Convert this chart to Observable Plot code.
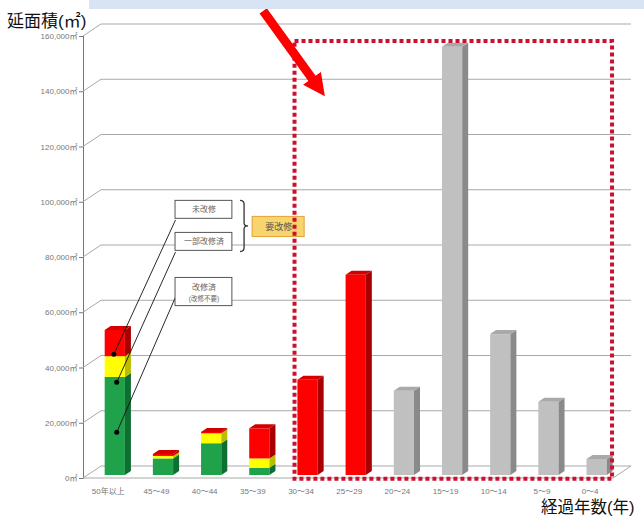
<!DOCTYPE html>
<html><head><meta charset="utf-8">
<script src="https://cdn.jsdelivr.net/npm/d3@7"></script>
<script src="https://cdn.jsdelivr.net/npm/@observablehq/plot@0.6"></script>
<style>
body{margin:0;background:#fff;}
#wrap{position:relative;width:644px;height:516px;overflow:hidden;font-family:"Liberation Sans","Noto Sans CJK JP",sans-serif;}
#chart{position:absolute;left:0;top:0;}
#banner{position:absolute;left:89px;top:0;width:555px;height:9px;background:#d8e3f4;}
#ytitle{position:absolute;left:7px;top:13px;font-size:17px;line-height:17px;color:#111;}
#xtitle{position:absolute;left:541px;top:499px;font-size:16.5px;line-height:16px;color:#111;white-space:nowrap;}
</style></head><body>
<div id="wrap"><div id="chart"></div><div id="banner"></div><div id="ytitle">延面積(㎡)</div><div id="xtitle">経過年数(年)</div></div>
<script>
// ---- data ----
const categories = ["50年以上","45〜49","40〜44","35〜39","30〜34","25〜29","20〜24","15〜19","10〜14","5〜9","0〜4"];
const kaishuzumi = [35500, 6000, 11500, 2600, 0, 0, 0, 0, 0, 0, 0];          // 改修済(改修不要) green
const ichibuKaishu = [7500, 900, 3600, 3400, 0, 0, 0, 0, 0, 0, 0];           // 一部改修済 yellow
const mikaishu = [9500, 700, 500, 10900, 34500, 72500, 0, 0, 0, 0, 0];       // 未改修 red
const sonota = [0, 0, 0, 0, 0, 0, 30500, 155000, 51000, 26500, 5800];        // gray
const yTicks = [0, 20000, 40000, 60000, 80000, 100000, 120000, 140000, 160000];
const highlightRange = ["30〜34", "0〜4"];
const calloutLabels = ["未改修", "一部改修済", "改修済", "(改修不要)", "要改修"];

// ---- styles ----
const seriesDefs = [
  {key: "改修済", values: kaishuzumi},
  {key: "一部改修済", values: ichibuKaishu},
  {key: "未改修", values: mikaishu},
  {key: "その他", values: sonota}
];
const frontC = {"改修済": "#1fa24a", "一部改修済": "#ffff00", "未改修": "#ff0000", "その他": "#c0c0c0"};
const sideC  = {"改修済": "#0f6e32", "一部改修済": "#bdbd00", "未改修": "#a80000", "その他": "#8a8a8a"};
const topC   = {"改修済": "#168a3d", "一部改修済": "#dede00", "未改修": "#d40000", "その他": "#a9a9a9"};

// stacked segments
const segments = [];
categories.forEach((c, i) => {
  let acc = 0, last = null;
  seriesDefs.forEach(s => {
    const v = s.values[i];
    if (v > 0) { last = {i, cat: c, key: s.key, y1: acc, y2: acc + v, top: false}; segments.push(last); acc += v; }
  });
  if (last) last.top = true;
});

const HW = 0.21, BAR_DY = -3, BX = 6, BY = 4, GX = 18, GY = 12;

function perspectiveGrid(index, scales, values, dim) {
  const y = scales.y;
  const xl = dim.marginLeft, xr = dim.width - dim.marginRight;
  const g = d3.create("svg:g").attr("fill", "none").attr("stroke", "#a9a9a9").attr("stroke-width", 1);
  for (const t of yTicks) {
    const py = y(t);
    g.append("path").attr("d", `M${xl},${py}L${xl + GX},${py - GY}L${xr + GX},${py - GY}`);
  }
  const p0 = y(0);
  g.append("path").attr("d", `M${xl},${p0}L${xr},${p0}L${xr + GX},${p0 - GY}`);
  return g.node();
}

function barFaces(index, scales, values, dim) {
  const {x, y} = scales;
  const g = d3.create("svg:g");
  for (const s of segments) {
    const x0 = x(s.i - HW), x1 = x(s.i + HW), yt = y(s.y2) + BAR_DY, yb = y(s.y1) + BAR_DY;
    g.append("path").attr("fill", sideC[s.key])
      .attr("d", `M${x1},${yt}L${x1 + BX},${yt - BY}L${x1 + BX},${yb - BY}L${x1},${yb}Z`);
    if (s.top) g.append("path").attr("fill", topC[s.key])
      .attr("d", `M${x0},${yt}L${x0 + BX},${yt - BY}L${x1 + BX},${yt - BY}L${x1},${yt}Z`);
  }
  return g.node();
}

// annotation geometry (data coordinates)
const hi0 = categories.indexOf(highlightRange[0]), hi1 = categories.indexOf(highlightRange[1]);
const highlight = [{x1: hi0 - 0.27, x2: hi1 + 0.32, y1: -300, y2: 158200}];
const boxes = [
  {x1: 1.25, x2: 2.43, y1: 94000, y2: 100500},
  {x1: 1.25, x2: 2.43, y1: 82400, y2: 88900},
  {x1: 1.25, x2: 2.43, y1: 62400, y2: 72600}
];
const boxTexts = [
  {x: 1.84, y: 97250, t: calloutLabels[0], s: 8},
  {x: 1.84, y: 85650, t: calloutLabels[1], s: 8},
  {x: 1.84, y: 69000, t: calloutLabels[2], s: 8},
  {x: 1.84, y: 65000, t: calloutLabels[3], s: 6.5}
];
const leaders = [
  {x1: 1.25, y1: 93600, x2: -0.03, y2: 45000},
  {x1: 1.25, y1: 82000, x2: 0.03, y2: 34800},
  {x1: 1.25, y1: 65700, x2: 0.03, y2: 16700}
];
const needBox = [{x1: 2.85, x2: 3.93, y1: 87400, y2: 94700}];
const brace = {x: 2.60, yTop: 100500, yBot: 82000};
const arrow = {x1: 3.08, y1: 169100, x2: 4.36, y2: 138200};

function annotations(index, scales) {
  const {x, y} = scales;
  const g = d3.create("svg:g");
  const bx = x(brace.x), bt = y(brace.yTop), bb = y(brace.yBot), bm = (bt + bb) / 2;
  g.append("path").attr("fill", "none").attr("stroke", "#333").attr("stroke-width", 1.3)
    .attr("d", `M${bx},${bt}Q${bx + 4},${bt} ${bx + 4},${bt + 4}L${bx + 4},${bm - 3}Q${bx + 4},${bm} ${bx + 8},${bm}Q${bx + 4},${bm} ${bx + 4},${bm + 3}L${bx + 4},${bb - 4}Q${bx + 4},${bb} ${bx},${bb}`);
  return g.node();
}

function arrowMark(index, scales) {
  const {x, y} = scales;
  const ax = x(arrow.x1), ay = y(arrow.y1), tx = x(arrow.x2), ty = y(arrow.y2);
  const L = Math.hypot(tx - ax, ty - ay), ux = (tx - ax) / L, uy = (ty - ay) / L;
  const hl = 22, hw = 11, sw = 4.5;
  const bx = tx - ux * hl, by = ty - uy * hl, px = -uy, py = ux;
  const g = d3.create("svg:g").attr("fill", "#ff0000");
  g.append("path").attr("d",
    `M${ax + px * sw},${ay + py * sw}L${bx + px * sw},${by + py * sw}L${bx + px * hw},${by + py * hw}L${tx},${ty}L${bx - px * hw},${by - py * hw}L${bx - px * sw},${by - py * sw}L${ax - px * sw},${ay - py * sw}Z`);
  return g.node();
}

const chart = Plot.plot({
  width: 644, height: 516,
  marginLeft: 83, marginRight: 31, marginTop: 36, marginBottom: 38,
  style: {fontFamily: "'Liberation Sans', 'Noto Sans CJK JP', sans-serif", fontSize: "8px", color: "#777", background: "transparent", overflow: "visible"},
  x: {domain: [-0.66, 10.34], axis: null},
  y: {domain: [0, 160000], ticks: yTicks, tickFormat: d => d3.format(",")(d) + "㎡", tickSize: 4, tickPadding: 2, line: true, label: null},
  color: {type: "identity"},
  marks: [
    perspectiveGrid,
    Plot.rect(segments, {x1: d => d.i - HW, x2: d => d.i + HW, y1: "y1", y2: "y2", fill: d => frontC[d.key], dy: BAR_DY}),
    barFaces,
    Plot.text(categories, {x: (d, i) => i, y: 0, text: d => d, dy: 13, dx: -7, fill: "#777", fontSize: 8}),
    Plot.link(leaders, {x1: "x1", y1: "y1", x2: "x2", y2: "y2", stroke: "#111", strokeWidth: 0.9}),
    Plot.dot(leaders, {x: "x2", y: "y2", r: 2.5, fill: "#000"}),
    Plot.rect(boxes, {x1: "x1", x2: "x2", y1: "y1", y2: "y2", fill: "#fff", stroke: "#555", strokeWidth: 1}),
    Plot.text(boxTexts, {x: "x", y: "y", text: "t", fontSize: "s", fill: "#666"}),
    annotations,
    Plot.rect(needBox, {x1: "x1", x2: "x2", y1: "y1", y2: "y2", fill: "#f8d56c", stroke: "#e2a13a", strokeWidth: 1}),
    Plot.text([calloutLabels[4]], {x: 3.39, y: 91050, text: d => d, fontSize: 9, fill: "#555"}),
    Plot.rect(highlight, {x1: "x1", x2: "x2", y1: "y1", y2: "y2", fill: "none", stroke: "#cc1030", strokeWidth: 4, strokeDasharray: "4 3"}),
    arrowMark
  ]
});
document.getElementById("chart").appendChild(chart);
</script>
</body></html>
